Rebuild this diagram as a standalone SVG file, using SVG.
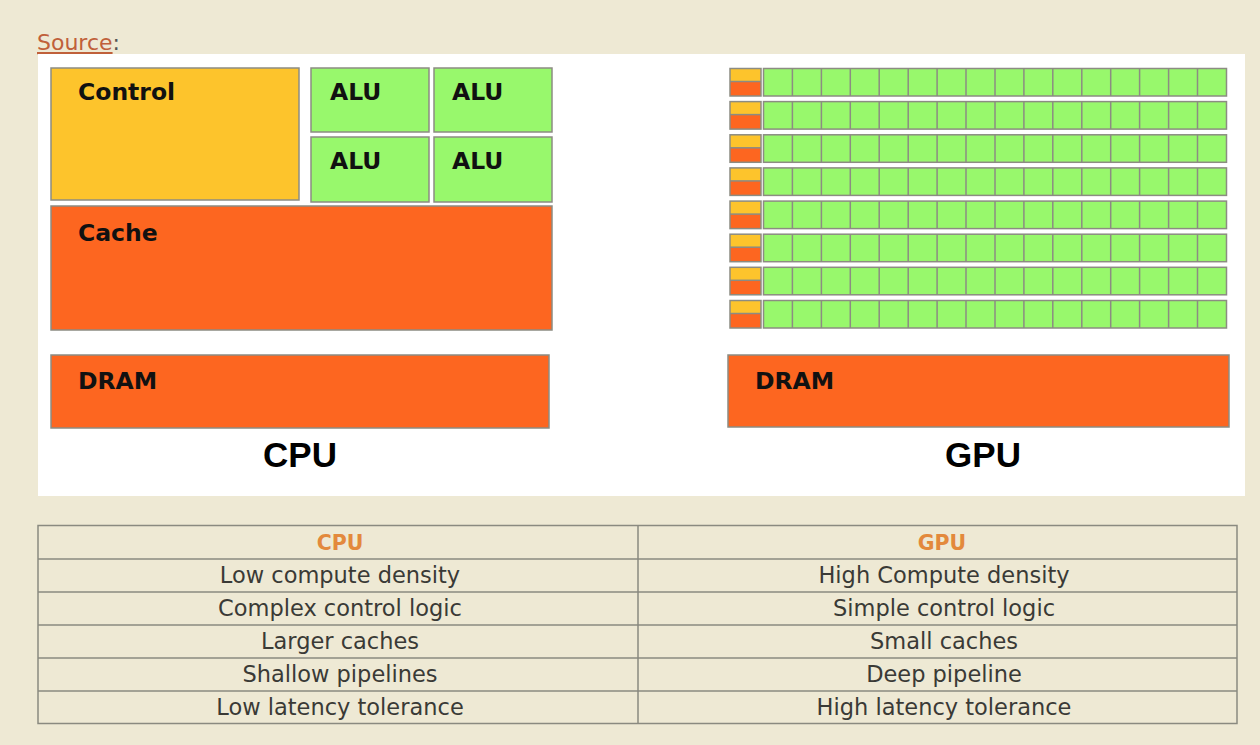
<svg xmlns="http://www.w3.org/2000/svg" width="1260" height="745" viewBox="0 0 1260 745">
<style>
.blk{stroke:#8c8c82;stroke-width:1.5}
.ctl{fill:#fdc42c}
.org{fill:#fd6620}
.grn{fill:#98f86c}
.lbl{font-family:"DejaVu Sans",Verdana,sans-serif;font-weight:bold;font-size:23.5px;fill:#111}
.big{font-family:"Liberation Sans",Arial,sans-serif;font-weight:bold;font-size:35px;fill:#000;text-anchor:middle}
.cell{fill:none;stroke:#8a8a80;stroke-width:1.5}
.th{font-family:"DejaVu Sans",Verdana,sans-serif;font-weight:bold;font-size:20.5px;fill:#e3893c;text-anchor:middle}
.td{font-family:"DejaVu Sans",Verdana,sans-serif;font-size:22.5px;fill:#3a3a36;text-anchor:middle}
.gl{stroke:#8c8c82;stroke-width:1.5}
</style>
<defs>
<g id="gpurow">
<rect x="730" y="0" width="31" height="13" class="ctl"/>
<rect x="730" y="13" width="31" height="14.5" class="org"/>
<rect x="730" y="0" width="31" height="27.5" fill="none" class="blk"/>
<line x1="730" y1="13" x2="761" y2="13" class="gl"/>
<rect x="763.5" y="0" width="463" height="27.5" class="grn blk"/>
<path class="gl" d="M792.4 0V27.5M821.4 0V27.5M850.3 0V27.5M879.2 0V27.5M908.2 0V27.5M937.1 0V27.5M966 0V27.5M995 0V27.5M1023.9 0V27.5M1052.8 0V27.5M1081.8 0V27.5M1110.7 0V27.5M1139.6 0V27.5M1168.6 0V27.5M1197.5 0V27.5"/>
</g>
</defs>
<rect x="0" y="0" width="1260" height="745" fill="#eee9d4"/>
<g id="source">
<text x="37" y="50" font-family="'DejaVu Sans',Verdana,sans-serif" font-size="22px"><tspan fill="#c0603a" text-decoration="underline">Source</tspan><tspan fill="#555">:</tspan></text>
</g>
<rect x="38" y="54" width="1207" height="442" fill="#ffffff"/>
<g id="cpu">
<g id="control"><rect x="51" y="68" width="248" height="132" class="ctl blk"/><text x="78" y="100" class="lbl">Control</text></g>
<g id="alu1"><rect x="311" y="68" width="118" height="64" class="grn blk"/><text x="330" y="100" class="lbl">ALU</text></g>
<g id="alu2"><rect x="434" y="68" width="118" height="64" class="grn blk"/><text x="452" y="100" class="lbl">ALU</text></g>
<g id="alu3"><rect x="311" y="137" width="118" height="65" class="grn blk"/><text x="330" y="169" class="lbl">ALU</text></g>
<g id="alu4"><rect x="434" y="137" width="118" height="65" class="grn blk"/><text x="452" y="169" class="lbl">ALU</text></g>
<g id="cache"><rect x="51" y="206" width="501" height="124" class="org blk"/><text x="78" y="241" class="lbl">Cache</text></g>
<g id="cpu-dram"><rect x="51" y="355" width="498" height="73" class="org blk"/><text x="78" y="389" class="lbl">DRAM</text></g>
<text x="300" y="467" class="big">CPU</text>
</g>
<g id="gpu">
<use href="#gpurow" transform="translate(0,68.5)"/>
<use href="#gpurow" transform="translate(0,101.6)"/>
<use href="#gpurow" transform="translate(0,134.8)"/>
<use href="#gpurow" transform="translate(0,167.9)"/>
<use href="#gpurow" transform="translate(0,201.1)"/>
<use href="#gpurow" transform="translate(0,234.2)"/>
<use href="#gpurow" transform="translate(0,267.3)"/>
<use href="#gpurow" transform="translate(0,300.5)"/>
<g id="gpu-dram"><rect x="728" y="355" width="501" height="72" class="org blk"/><text x="755" y="389" class="lbl">DRAM</text></g>
<text x="983" y="467" class="big">GPU</text>
</g>
<g id="table">
<rect x="38" y="525.5" width="1199" height="198" class="cell"/>
<path class="cell" d="M38 559H1237M38 592H1237M38 625H1237M38 658H1237M38 691H1237M638 525.5V723.5"/>
<text x="340" y="550" class="th">CPU</text>
<text x="942" y="550" class="th">GPU</text>
<text x="340" y="583" class="td">Low compute density</text>
<text x="340" y="616" class="td">Complex control logic</text>
<text x="340" y="649" class="td">Larger caches</text>
<text x="340" y="682" class="td">Shallow pipelines</text>
<text x="340" y="715" class="td">Low latency tolerance</text>
<text x="944" y="583" class="td">High Compute density</text>
<text x="944" y="616" class="td">Simple control logic</text>
<text x="944" y="649" class="td">Small caches</text>
<text x="944" y="682" class="td">Deep pipeline</text>
<text x="944" y="715" class="td">High latency tolerance</text>
</g>
</svg>
